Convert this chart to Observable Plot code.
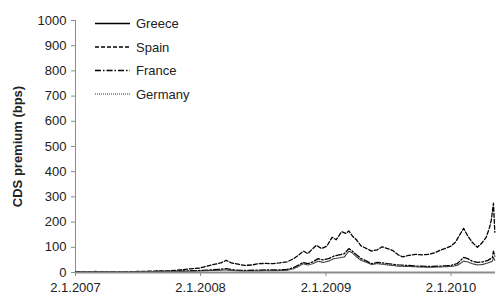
<!DOCTYPE html>
<html><head><meta charset="utf-8">
<script src="https://cdn.jsdelivr.net/npm/d3@7"></script>
<script src="https://cdn.jsdelivr.net/npm/@observablehq/plot@0.6"></script>
<style>
body{margin:0;background:#fff;}
#wrap{position:relative;width:496px;height:300px;font-family:"Liberation Sans",Arial,sans-serif;}
#legend{position:absolute;left:0;top:0;}
</style></head><body><div id="wrap"></div>
<script>
// Series names (legend order)
const seriesNames = ["Greece", "Spain", "France", "Germany"];

// Greece is listed in the legend but no line is visible in the reference
const greece = [];

const spain = [
  ["2007-01-02",3],["2007-02-01",3],["2007-03-01",4],["2007-04-01",3],["2007-05-01",2],
  ["2007-06-01",3],["2007-07-01",4],["2007-08-01",5],["2007-09-01",6],["2007-10-01",6],
  ["2007-11-01",10],["2007-12-01",14],["2008-01-02",18],["2008-01-20",25],["2008-02-10",32],
  ["2008-03-01",38],["2008-03-17",48],["2008-04-01",38],["2008-04-20",33],["2008-05-10",28],
  ["2008-06-01",30],["2008-06-20",35],["2008-07-10",36],["2008-08-01",35],["2008-08-20",38],
  ["2008-09-10",42],["2008-09-30",55],["2008-10-15",70],["2008-10-28",85],["2008-11-10",75],
  ["2008-11-25",95],["2008-12-05",108],["2008-12-20",95],["2009-01-05",105],["2009-01-20",140],
  ["2009-02-01",130],["2009-02-17",162],["2009-03-01",155],["2009-03-10",165],["2009-03-20",145],
  ["2009-04-01",130],["2009-04-15",105],["2009-05-01",95],["2009-05-15",85],["2009-06-01",90],
  ["2009-06-15",102],["2009-07-01",95],["2009-07-15",88],["2009-08-01",70],["2009-08-15",62],
  ["2009-09-01",68],["2009-09-20",72],["2009-10-10",70],["2009-10-30",72],["2009-11-15",78],
  ["2009-12-01",88],["2009-12-15",95],["2010-01-02",105],["2010-01-15",120],["2010-01-28",150],
  ["2010-02-08",175],["2010-02-20",145],["2010-03-05",120],["2010-03-20",100],["2010-04-01",115],
  ["2010-04-15",140],["2010-04-25",180],["2010-04-30",210],["2010-05-06",275],["2010-05-10",160]
];

const france = [
  ["2007-01-02",2],["2007-03-01",2],["2007-05-01",2],["2007-07-01",3],["2007-09-01",4],
  ["2007-11-01",5],["2007-12-01",7],["2008-01-02",8],["2008-02-01",10],["2008-03-17",15],
  ["2008-04-10",10],["2008-05-10",8],["2008-06-10",9],["2008-07-10",10],["2008-08-10",10],
  ["2008-09-10",12],["2008-09-30",20],["2008-10-15",30],["2008-10-28",40],["2008-11-10",35],
  ["2008-11-25",42],["2008-12-10",55],["2008-12-25",50],["2009-01-10",55],["2009-01-25",65],
  ["2009-02-10",70],["2009-02-25",75],["2009-03-10",95],["2009-03-20",85],["2009-04-01",70],
  ["2009-04-15",55],["2009-05-01",45],["2009-05-15",35],["2009-06-01",40],["2009-06-15",38],
  ["2009-07-01",35],["2009-07-15",33],["2009-08-01",30],["2009-09-01",28],["2009-10-01",25],
  ["2009-11-01",24],["2009-12-01",25],["2010-01-02",28],["2010-01-20",35],["2010-02-08",60],
  ["2010-02-20",55],["2010-03-05",45],["2010-03-20",40],["2010-04-05",42],["2010-04-20",48],
  ["2010-05-03",60],["2010-05-06",85],["2010-05-10",65]
];

const germany = [
  ["2007-01-02",1],["2007-03-01",2],["2007-05-01",1],["2007-07-01",2],["2007-09-01",3],
  ["2007-11-01",4],["2007-12-01",5],["2008-01-02",6],["2008-02-01",8],["2008-03-17",10],
  ["2008-04-10",7],["2008-05-10",6],["2008-06-10",6],["2008-07-10",7],["2008-08-10",7],
  ["2008-09-10",9],["2008-09-30",15],["2008-10-15",25],["2008-10-28",35],["2008-11-10",30],
  ["2008-11-25",35],["2008-12-10",45],["2008-12-25",40],["2009-01-10",45],["2009-01-25",55],
  ["2009-02-10",58],["2009-02-25",62],["2009-03-10",85],["2009-03-20",78],["2009-04-01",62],
  ["2009-04-15",48],["2009-05-01",40],["2009-05-15",32],["2009-06-01",35],["2009-06-15",33],
  ["2009-07-01",30],["2009-07-15",28],["2009-08-01",25],["2009-09-01",24],["2009-10-01",22],
  ["2009-11-01",21],["2009-12-01",22],["2010-01-02",24],["2010-01-20",28],["2010-02-08",45],
  ["2010-02-20",42],["2010-03-05",35],["2010-03-20",30],["2010-04-05",32],["2010-04-20",38],
  ["2010-05-03",45],["2010-05-06",60],["2010-05-10",48]
];

// Axis ticks
const xTickDates = ["2007-01-02", "2008-01-02", "2009-01-02", "2010-01-02"];
const yTicks = [0, 100, 200, 300, 400, 500, 600, 700, 800, 900, 1000];
const xDomain = ["2007-01-02", "2010-05-12"];
const yLabel = "CDS premium (bps)";

// ---- build ----
const parse = d3.utcParse("%Y-%m-%d");
const styles = {
  Greece:  {dash: null,        width: 1.3, color: "#000"},
  Spain:   {dash: "4,2",       width: 1.3, color: "#000"},
  France:  {dash: "6,2,1.5,2", width: 1.3, color: "#000"},
  Germany: {dash: "1,1",       width: 1.1, color: "#333"}
};
const seriesData = {Greece: greece, Spain: spain, France: france, Germany: germany};
const rows = name => seriesData[name].map(([d, v]) => ({date: parse(d), value: v, series: name}));

const lineMarks = seriesNames.filter(n => seriesData[n].length).map(n =>
  Plot.lineY(rows(n), {x: "date", y: "value", stroke: styles[n].color,
    strokeWidth: styles[n].width, strokeDasharray: styles[n].dash, strokeLinejoin: "round"}));

const x0 = parse(xDomain[0]);
const chart = Plot.plot({
  width: 496, height: 300,
  marginLeft: 75, marginRight: 1, marginTop: 20, marginBottom: 28,
  style: {fontFamily: "Liberation Sans, Arial, sans-serif", fontSize: "13px", color: "#222", background: "#fff"},
  x: {type: "utc", domain: xDomain.map(parse)},
  y: {domain: [0, 1000]},
  marks: [
    Plot.ruleX([x0], {stroke: "#8c8c8c", strokeWidth: 1}),
    Plot.axisY({ticks: yTicks, tickFormat: d => String(d), tickSize: 4, tickPadding: 5, stroke: "#8c8c8c",
      label: yLabel, labelAnchor: "center", labelArrow: "none", labelOffset: 63}),
    Plot.axisX({ticks: xTickDates.map(parse), tickFormat: d3.utcFormat("%-d.%-m.%Y"),
      tickSize: 4, tickPadding: 6, stroke: "#8c8c8c", label: null}),
    ...lineMarks,
    Plot.ruleY([0], {stroke: "#8c8c8c", strokeWidth: 2})
  ]
});
const wrap = document.getElementById("wrap");
wrap.appendChild(chart);
d3.select(chart).selectAll('[aria-label="y-axis label"] text').style("font-weight", "bold");

// Legend overlay
const lg = d3.select(wrap).append("svg").attr("id", "legend").attr("width", 496).attr("height", 120);
seriesNames.forEach((n, i) => {
  const y = 23.5 + i * 23.5;
  lg.append("line").attr("x1", 95).attr("x2", 130).attr("y1", y).attr("y2", y)
    .attr("stroke", styles[n].color).attr("stroke-width", styles[n].width)
    .attr("stroke-dasharray", styles[n].dash);
  lg.append("text").attr("x", 136).attr("y", y + 4.5).text(n)
    .style("font-family", "Liberation Sans, Arial, sans-serif").style("font-size", "13px").attr("fill", "#222");
});
</script></body></html>
